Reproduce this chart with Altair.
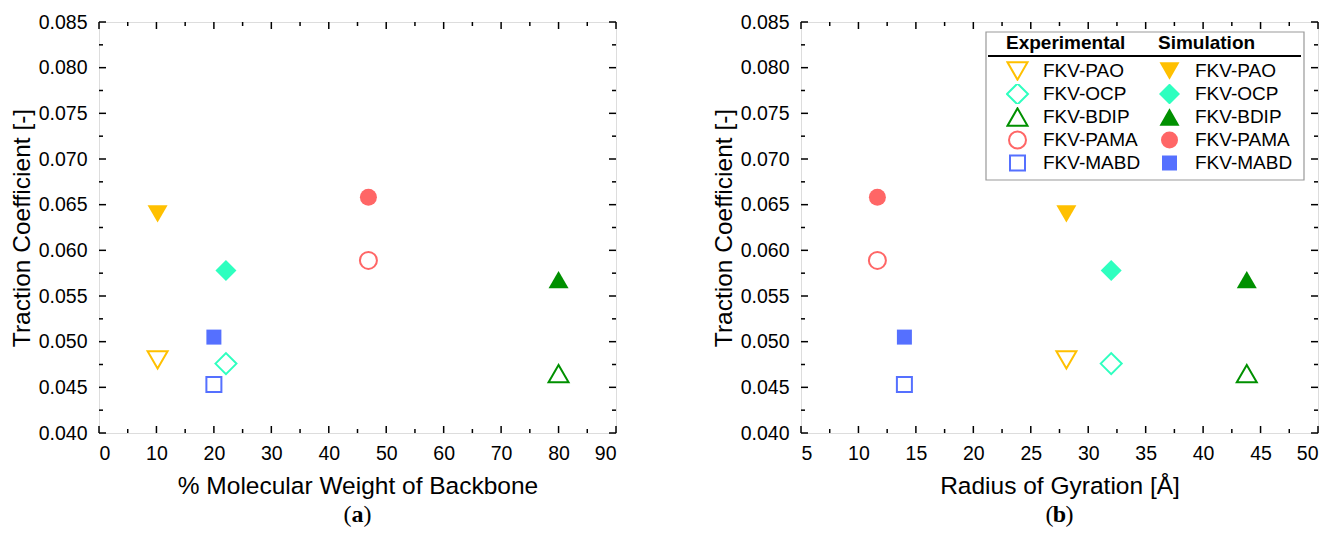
import altair as alt
import pandas as pd

# ---- data ----
names = ["FKV-PAO", "FKV-OCP", "FKV-BDIP", "FKV-PAMA", "FKV-MABD"]
mw_backbone = [10.2, 22.1, 80.0, 46.9, 20.0]          # % molecular weight of backbone
radius_gyration = [28.1, 32.0, 43.8, 11.65, 14.0]     # Å
tc_experimental = [0.0480, 0.0476, 0.0465, 0.0589, 0.0453]
tc_simulation = [0.0640, 0.0578, 0.0568, 0.0658, 0.0505]

colors = ["#FFC000", "#2EFFBF", "#009000", "#FF6666", "#5570FF"]
shapes = ["triangle-down", "diamond", "triangle-up", "circle", "square"]
sizes = [400, 441, 400, 289, 225]

y_major = [0.040, 0.045, 0.050, 0.055, 0.060, 0.065, 0.070, 0.075, 0.080, 0.085]
y_minor = [0.0425, 0.0475, 0.0525, 0.0575, 0.0625, 0.0675, 0.0725, 0.0775, 0.0825]
xa_major = [0, 10, 20, 30, 40, 50, 60, 70, 80, 90]
xa_minor = [5, 15, 25, 35, 45, 55, 65, 75, 85]
xb_major = [5, 10, 15, 20, 25, 30, 35, 40, 45, 50]
xb_minor = [7.5, 12.5, 17.5, 22.5, 27.5, 32.5, 37.5, 42.5, 47.5]

FONT = "Liberation Sans"
SERIF = "Liberation Serif"
W, H = 517, 411

df = pd.DataFrame({
    "Experimental": names,
    "Simulation": names,
    "mw": mw_backbone,
    "rg": radius_gyration,
    "exp": tc_experimental,
    "sim": tc_simulation,
})
one = pd.DataFrame({"k": [0]})


def panel(xfield, xdomain, xmaj, xmin, xtitle, letter, legend):
    xscale = alt.Scale(domain=xdomain, nice=False, zero=False)
    yscale = alt.Scale(domain=[0.040, 0.085], nice=False, zero=False)
    xaxis = alt.Axis(values=xmaj, title=xtitle, ticks=False, grid=False, domain=False,
                     labelFontSize=19.5, titleFontSize=24.5, labelPadding=11, titlePadding=12,
                     labelFont=FONT, titleFont=FONT, titleFontWeight="normal",
                     labelColor="black", titleColor="black", format="d")
    yaxis = alt.Axis(values=y_major, title="Traction Coefficient [-]", ticks=False, grid=False,
                     domain=False, format=".3f", labelFontSize=19.5, titleFontSize=24.5,
                     labelPadding=12, titlePadding=4, labelFont=FONT, titleFont=FONT,
                     titleFontWeight="normal", labelColor="black", titleColor="black")

    def leg(title, lx):
        return alt.Legend(title=title, orient="none", legendX=lx, legendY=12,
                          titleFont=FONT, titleFontSize=19, titleFontWeight="bold",
                          titleColor="black", labelFont=FONT, labelFontSize=19,
                          labelColor="black", titlePadding=8, rowPadding=3,
                          clipHeight=20, labelOffset=14, symbolStrokeWidth=2)

    def layer(field, filled, lx):
        kw = {"legend": leg(field, lx)} if legend else {"legend": None}
        return alt.Chart(df).mark_point(filled=filled, strokeWidth=2, opacity=1).encode(
            x=alt.X(f"{xfield}:Q", scale=xscale, axis=xaxis),
            y=alt.Y(("exp" if not filled else "sim") + ":Q", scale=yscale, axis=yaxis),
            color=alt.Color(f"{field}:N", scale=alt.Scale(domain=names, range=colors), **kw),
            shape=alt.Shape(f"{field}:N", scale=alt.Scale(domain=names, range=shapes), **kw),
            size=alt.Size(f"{field}:N",
                          scale=alt.Scale(type="ordinal", domain=names, range=sizes), **kw),
        )

    layers = []
    if legend:
        box = alt.Chart(one).mark_rect(fill="white", stroke="#999999", strokeWidth=1.2).encode(
            x=alt.value(185), x2=alt.value(503), y=alt.value(10), y2=alt.value(158))
        line = alt.Chart(one).mark_rule(color="black", strokeWidth=2).encode(
            x=alt.value(187), x2=alt.value(500), y=alt.value(34))
        layers += [box, line]

    # inward ticks on all four sides
    tk = []
    for vals, ln in ((xmaj, 7), (xmin, 4)):
        d = pd.DataFrame({"v": vals})
        tk.append(alt.Chart(d).mark_rule(color="black", strokeWidth=1.5).encode(
            x=alt.X("v:Q", scale=xscale), y=alt.value(H), y2=alt.value(H - ln)))
        tk.append(alt.Chart(d).mark_rule(color="black", strokeWidth=1.5).encode(
            x=alt.X("v:Q", scale=xscale), y=alt.value(0), y2=alt.value(ln)))
    for vals, ln in ((y_major, 7), (y_minor, 4)):
        d = pd.DataFrame({"v": vals})
        tk.append(alt.Chart(d).mark_rule(color="black", strokeWidth=1.5).encode(
            y=alt.Y("v:Q", scale=yscale), x=alt.value(0), x2=alt.value(ln)))
        tk.append(alt.Chart(d).mark_rule(color="black", strokeWidth=1.5).encode(
            y=alt.Y("v:Q", scale=yscale), x=alt.value(W), x2=alt.value(W - ln)))

    cap_y = H + 82
    cap = [
        alt.Chart(one).mark_text(text="(", font=SERIF, fontSize=24, color="black").encode(
            x=alt.value(W / 2 - 10), y=alt.value(cap_y)),
        alt.Chart(one).mark_text(text=letter, font=SERIF, fontSize=24, fontWeight="bold",
                                 color="black").encode(x=alt.value(W / 2), y=alt.value(cap_y)),
        alt.Chart(one).mark_text(text=")", font=SERIF, fontSize=24, color="black").encode(
            x=alt.value(W / 2 + 10), y=alt.value(cap_y)),
    ]

    ch = alt.layer(*layers, layer("Experimental", False, 205), layer("Simulation", True, 357),
                   *tk, *cap).properties(width=W, height=H)
    ch = ch.resolve_scale(color="independent", shape="independent", size="independent")
    ch = ch.resolve_legend(color="independent", shape="independent", size="independent")
    return ch


left = panel("mw", [0, 90], xa_major, xa_minor, "% Molecular Weight of Backbone", "a", False)
right = panel("rg", [5, 50], xb_major, xb_minor, "Radius of Gyration [Å]", "b", True)

chart = alt.hconcat(left, right, spacing=92).properties(
    padding={"top": 3, "left": 0, "right": 0, "bottom": 0}
).configure_view(stroke="black", strokeWidth=1.5).configure(font=FONT)

chart.save("out.html", embed_options={"renderer": "svg", "actions": False})
